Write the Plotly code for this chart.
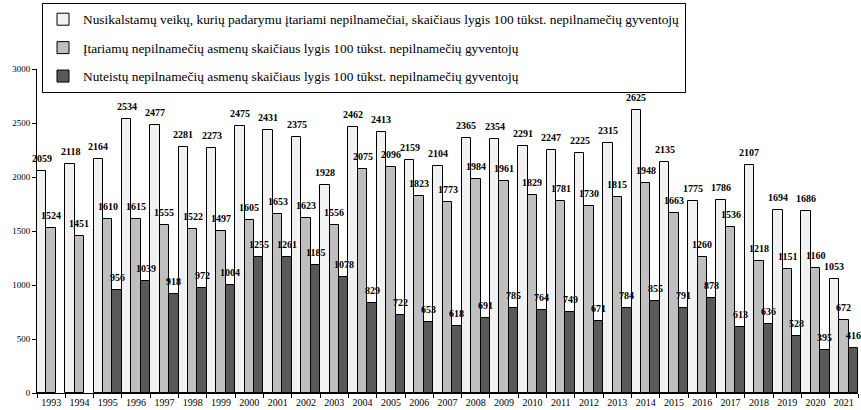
import plotly.graph_objects as go

years = [str(y) for y in range(1993, 2022)]
crimes = [2059, 2118, 2164, 2534, 2477, 2281, 2273, 2475, 2431, 2375, 1928, 2462, 2413, 2159, 2104,
          2365, 2354, 2291, 2247, 2225, 2315, 2625, 2135, 1775, 1786, 2107, 1694, 1686, 1053]
suspects = [1524, 1451, 1610, 1615, 1555, 1522, 1497, 1605, 1653, 1623, 1556, 2075, 2096, 1823, 1773,
            1984, 1961, 1829, 1781, 1730, 1815, 1948, 1663, 1260, 1536, 1218, 1151, 1160, 672]
convicted = [None, None, 956, 1039, 918, 972, 1004, 1255, 1261, 1185, 1078, 829, 722, 653, 618,
             691, 785, 764, 749, 671, 784, 855, 791, 878, 613, 636, 528, 395, 416]

names = [
    "Nusikalstamų veikų, kurių padarymu įtariami nepilnamečiai, skaičiaus lygis 100 tūkst. nepilnamečių gyventojų",
    "Įtariamų nepilnamečių asmenų skaičiaus lygis 100 tūkst. nepilnamečių gyventojų",
    "Nuteistų nepilnamečių asmenų skaičiaus lygis 100 tūkst. nepilnamečių gyventojų",
]
colors = ["#f2f2f2", "#bfbfbf", "#595959"]
series = [crimes, suspects, convicted]

FONT = "Liberation Serif"
n_series = len(series)

fig = go.Figure()
for i, (nm, vals, col) in enumerate(zip(names, series, colors)):
    fig.add_trace(go.Bar(
        x=years, y=vals, name=nm, legendgroup=str(i),
        marker=dict(color=col, line=dict(color="#000000", width=1)),
        hoverinfo="x+y",
    ))

# value labels above each bar (bars fill each category: width 1/n_series)
annotations = []
for k, vals in enumerate(series):
    offset = (k - (n_series - 1) / 2) / n_series
    for j, v in enumerate(vals):
        if v is None:
            continue
        annotations.append(dict(
            x=j + offset, y=v, xref="x", yref="y", text=str(v), showarrow=False,
            yanchor="bottom", xanchor="center", yshift=5,
            font=dict(family=FONT, size=10, color="#000000", weight="bold"),
        ))

fig.update_layout(
    width=861, height=410,
    margin=dict(l=37, r=3, t=69, b=17, pad=0, autoexpand=False),
    paper_bgcolor="white", plot_bgcolor="white",
    barmode="group", bargap=0, bargroupgap=0,
    font=dict(family=FONT, size=9, color="#000000"),
    showlegend=True,
    annotations=annotations,
    legend=dict(
        xref="container", yref="container", x=42 / 861, y=1 - 3 / 410,
        xanchor="left", yanchor="top",
        bordercolor="#000000", borderwidth=1, bgcolor="white",
        font=dict(family=FONT, size=13.4, color="#000000"),
        traceorder="grouped", tracegroupgap=8,
    ),
    xaxis=dict(
        type="category", range=[-0.5, len(years) - 0.5],
        showline=True, linecolor="#000000", linewidth=1,
        ticks="outside", tickson="boundaries", ticklen=4, tickcolor="#000000",
        tickfont=dict(family=FONT, size=10), showgrid=False, tickangle=0,
    ),
    yaxis=dict(
        range=[0, 3000], dtick=500, showline=True, linecolor="#000000", linewidth=1,
        ticks="outside", ticklen=4, tickcolor="#000000", showgrid=False, zeroline=False,
        tickfont=dict(family=FONT, size=9),
    ),
)

fig.write_html("out.html", config={"displayModeBar": False},
               post_script="document.body.style.margin='0';")
